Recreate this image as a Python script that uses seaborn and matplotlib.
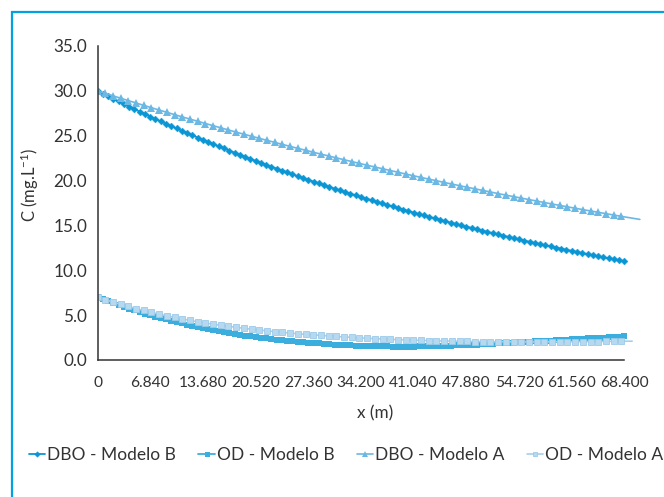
import numpy as np
import matplotlib
matplotlib.use("Agg")
import matplotlib.pyplot as plt
import seaborn as sns
from matplotlib.patches import Rectangle

# ---- data -------------------------------------------------------------
# Model B is computed on a 0.684 m grid, model A on a 1 m grid
dx_b = 0.684
n_b = 101
dx_a = 1.0
n_a = 69

dbo_b = [30.00, 29.70, 29.41, 29.11, 28.82, 28.54, 28.25, 27.97, 27.69, 27.42,
         27.14, 26.87, 26.60, 26.33, 26.07, 25.81, 25.55, 25.30, 25.05, 24.80,
         24.55, 24.30, 24.06, 23.82, 23.58, 23.35, 23.11, 22.88, 22.65, 22.43,
         22.20, 21.98, 21.76, 21.55, 21.33, 21.12, 20.91, 20.70, 20.49, 20.29,
         20.08, 19.88, 19.69, 19.49, 19.30, 19.10, 18.91, 18.72, 18.54, 18.35,
         18.17, 17.99, 17.81, 17.63, 17.45, 17.28, 17.11, 16.94, 16.77, 16.60,
         16.43, 16.27, 16.11, 15.95, 15.79, 15.63, 15.47, 15.32, 15.16, 15.01,
         14.86, 14.72, 14.57, 14.43, 14.28, 14.14, 14.00, 13.86, 13.72, 13.58,
         13.44, 13.31, 13.18, 13.05, 12.92, 12.79, 12.66, 12.53, 12.41, 12.28,
         12.16, 12.04, 11.92, 11.80, 11.69, 11.57, 11.46, 11.34, 11.23, 11.12,
         11.00]

od_b = [7.00, 6.77, 6.55, 6.33, 6.12, 5.91, 5.71, 5.52, 5.33, 5.16,
        5.00, 4.84, 4.68, 4.53, 4.38, 4.23, 4.09, 3.95, 3.81, 3.68,
        3.55, 3.43, 3.31, 3.20, 3.09, 2.98, 2.88, 2.79, 2.70, 2.62,
        2.55, 2.48, 2.41, 2.34, 2.27, 2.21, 2.15, 2.09, 2.03, 1.98,
        1.93, 1.88, 1.84, 1.80, 1.76, 1.72, 1.69, 1.66, 1.63, 1.60,
        1.58, 1.56, 1.54, 1.53, 1.52, 1.51, 1.50, 1.50, 1.49, 1.49,
        1.50, 1.51, 1.52, 1.53, 1.55, 1.57, 1.58, 1.60, 1.62, 1.64,
        1.66, 1.69, 1.72, 1.75, 1.78, 1.81, 1.84, 1.88, 1.91, 1.95,
        1.98, 2.01, 2.04, 2.07, 2.11, 2.14, 2.17, 2.20, 2.24, 2.27,
        2.30, 2.33, 2.36, 2.40, 2.43, 2.46, 2.49, 2.52, 2.56, 2.59,
        2.62]

dbo_a = [30.00, 29.72, 29.45, 29.18, 28.91, 28.65, 28.38, 28.12, 27.86, 27.61,
         27.35, 27.10, 26.85, 26.61, 26.36, 26.12, 25.88, 25.64, 25.40, 25.17,
         24.94, 24.71, 24.48, 24.26, 24.03, 23.81, 23.59, 23.38, 23.16, 22.95,
         22.74, 22.53, 22.32, 22.12, 21.91, 21.71, 21.51, 21.32, 21.12, 20.93,
         20.73, 20.54, 20.35, 20.16, 19.98, 19.79, 19.61, 19.43, 19.25, 19.08,
         18.90, 18.73, 18.55, 18.38, 18.21, 18.05, 17.88, 17.72, 17.55, 17.39,
         17.23, 17.07, 16.92, 16.76, 16.61, 16.46, 16.31, 16.16, 16.01]

od_a = [7.00, 6.72, 6.46, 6.21, 5.97, 5.74, 5.52, 5.31, 5.11, 4.92,
        4.74, 4.57, 4.41, 4.26, 4.12, 3.99, 3.87, 3.75, 3.64, 3.53,
        3.43, 3.34, 3.25, 3.16, 3.08, 3.00, 2.93, 2.86, 2.80, 2.74,
        2.68, 2.62, 2.57, 2.52, 2.47, 2.42, 2.38, 2.34, 2.30, 2.27,
        2.24, 2.21, 2.18, 2.16, 2.14, 2.12, 2.10, 2.08, 2.07, 2.06,
        2.05, 2.04, 2.03, 2.03, 2.02, 2.02, 2.02, 2.02, 2.02, 2.03,
        2.03, 2.04, 2.04, 2.05, 2.06, 2.06, 2.07, 2.08, 2.09]

# model A continues a little past the last plotted marker
dbo_a_tail_x, dbo_a_tail_y = 70.4, 15.67
od_a_tail_x, od_a_tail_y = 69.4, 2.10

series_labels = ["DBO - Modelo B", "OD - Modelo B", "DBO - Modelo A", "OD - Modelo A"]
x_ticks = [0, 6.84, 13.68, 20.52, 27.36, 34.2, 41.04, 47.88, 54.72, 61.56, 68.4]
x_tick_labels = ["0", "6.840", "13.680", "20.520", "27.360", "34.200",
                 "41.040", "47.880", "54.720", "61.560", "68.400"]
y_ticks = [0, 5, 10, 15, 20, 25, 30, 35]
y_tick_labels = ["0.0", "5.0", "10.0", "15.0", "20.0", "25.0", "30.0", "35.0"]

# ---- styling ----------------------------------------------------------
sns.set_theme(style="white")
plt.rcParams["font.family"] = ["Lato", "DejaVu Sans"]
plt.rcParams["mathtext.default"] = "regular"
text_color = "#333333"
axis_color = "#333333"

c_dbo_b = "#0a96d4"
c_od_b = "#3caede"
c_dbo_a = "#6cb8e4"
c_od_a = "#a6cfec"

W, H = 664, 497
fig = plt.figure(figsize=(W / 100, H / 100), dpi=100)
ax = fig.add_axes([97.5 / W, 1 - 360 / H, 554.7 / W, 314 / H])

x_b = np.arange(n_b) * dx_b
x_a = np.arange(n_a) * dx_a

x_dbo_a = np.append(x_a, dbo_a_tail_x)
y_dbo_a = np.append(dbo_a, dbo_a_tail_y)
x_od_a = np.append(x_a, od_a_tail_x)
y_od_a = np.append(od_a, od_a_tail_y)

sns.lineplot(x=x_b, y=dbo_b, ax=ax, color=c_dbo_b, linewidth=1.3,
             marker="D", markersize=3.5, markeredgewidth=0.3,
             markeredgecolor=c_dbo_b, label=series_labels[0], sort=False)
sns.lineplot(x=x_b, y=od_b, ax=ax, color=c_od_b, linewidth=1.3,
             marker="s", markersize=4.5, markeredgewidth=0,
             label=series_labels[1], sort=False)
sns.lineplot(x=x_dbo_a, y=y_dbo_a, ax=ax, color=c_dbo_a, linewidth=1.2,
             marker="^", markersize=5.2, markeredgewidth=0,
             markevery=slice(0, n_a), label=series_labels[2], sort=False)
sns.lineplot(x=x_od_a, y=y_od_a, ax=ax, color=c_od_a, linewidth=1.2,
             marker="s", markersize=4.0, markeredgewidth=0.6,
             markerfacecolor="#b7d9f0", markeredgecolor="#9ccae9",
             markevery=slice(0, n_a), label=series_labels[3], sort=False)

ax.set_xlim(0, 72)
ax.set_ylim(0, 35)
ax.set_xticks(x_ticks)
ax.set_xticklabels(x_tick_labels)
ax.set_yticks(y_ticks)
ax.set_yticklabels(y_tick_labels)

for side in ["top", "right"]:
    ax.spines[side].set_visible(False)
for side in ["left", "bottom"]:
    ax.spines[side].set_color(axis_color)
    ax.spines[side].set_linewidth(1.1)
ax.spines["bottom"].set_bounds(0, 68.4)

ax.tick_params(axis="both", which="major", direction="out", length=4.5,
               width=1.1, color=axis_color, labelcolor=text_color)
ax.tick_params(axis="x", pad=7, labelsize=11.2)
ax.tick_params(axis="y", pad=3, labelsize=12.3)

ax.set_xlabel("x (m)", fontsize=12.3, color=text_color, labelpad=11)
ax.set_ylabel("C (mg.L$^{-1}$)", fontsize=12, color=text_color)
ax.yaxis.set_label_coords(-(97.5 - 41) / 554.7, (360 - 185) / 314)

handles, labels = ax.get_legend_handles_labels()
ax.get_legend().remove()
fig.legend(handles, labels, loc="center", bbox_to_anchor=(346 / W, 1 - 455 / H),
           ncol=4, frameon=False, fontsize=12.5, handlelength=0.95,
           handletextpad=0.1, columnspacing=1.3, markerscale=0.8,
           labelcolor=text_color)

# cyan frame around the figure panel
fig.add_artist(Rectangle((11.5 / W, -0.2), 1.2, 1.2 - 12 / H,
                         transform=fig.transFigure, fill=False,
                         edgecolor="#00a3e0", linewidth=1.6))

fig.savefig("out.png", dpi=100)
